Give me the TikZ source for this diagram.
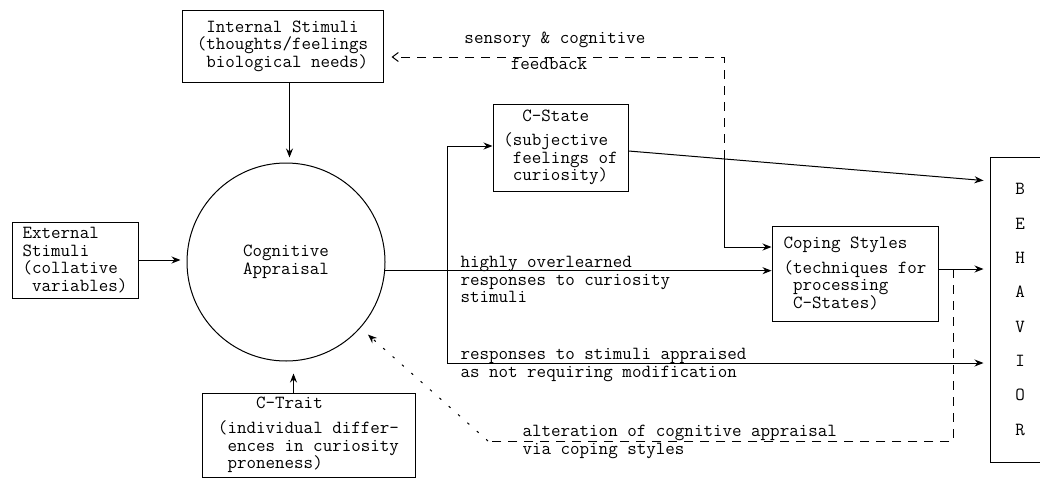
\documentclass[tikz,border=0pt]{standalone}
\usepackage{fontspec}
\usetikzlibrary{arrows.meta}
\tikzset{>={Stealth[width=7pt,length=9pt]}}
\tikzset{
  blk/.style={draw, align=left},
  fb/.style={dash pattern=on 9pt off 7pt},
  fbdot/.style={dash pattern=on 2.5pt off 10pt},
}

\begin{document}
\begin{tikzpicture}[x=1pt, y=-1pt, line width=1pt,
  every node/.style={inner sep=0pt, font=\ttfamily\fontsize{18.5}{17.5}\selectfont}]
  \useasboundingbox (0,0) rectangle (1040,479);

  % boxes
  \node[blk, minimum width=201pt, minimum height=72pt] (ist) at (282.5,46)
    {\ Internal Stimuli\\(thoughts/feelings\\\ biological needs)};
  \node[blk, minimum width=126pt, minimum height=76pt] (est) at (75,260)
    {External\\Stimuli\\(collative\\\ variables)};
  \node[draw, circle, minimum size=198pt, align=center] (ca) at (286,262)
    {Cognitive\\Appraisal};
  \node[blk, minimum width=213pt, minimum height=84pt] (ctr) at (308.5,435)
    {\ \ \ \ C-Trait\\[8pt](individual differ-\\\ ences in curiosity\\\ proneness)};
  \node[blk, minimum width=135pt, minimum height=87pt] (cst) at (560.5,147.5)
    {\ \ C-State\\[7pt](subjective\\\ feelings of\\\ curiosity)};
  \node[blk, minimum width=166pt, minimum height=95pt] (cps) at (855,273.5)
    {Coping Styles\\[7pt](techniques for\\\ processing\\\ C-States)};
  \node[blk, align=center, minimum width=60pt, minimum height=305pt,
    font=\ttfamily\fontsize{18.5}{34.3}\selectfont] (beh) at (1020,309.5)
    {B\\E\\H\\A\\V\\I\\O\\R};

  % labels
  \node (sens) at (555,40) {sensory \& cognitive};
  \node[anchor=north] (fdb) at (549,58) {feedback};
  \node[anchor=north west, align=left] (hol) at (460,256)
    {highly overlearned\\responses to curiosity\\stimuli};
  \node[anchor=north west, align=left] (rsa) at (460,348)
    {responses to stimuli appraised\\as not requiring modification};
  \node[anchor=north west, align=left] (alt) at (522,425)
    {alteration of cognitive appraisal\\via coping styles};

  % inputs to appraisal
  \draw[->, shorten >=5pt] ([xshift=7pt]ist.south) -- ([xshift=7pt]ist.south |- ca.north);
  \draw[->, shorten >=6pt] (est.east) -- (est.east -| ca.west);
  \draw[->, shorten >=12pt] ([xshift=-15pt]ctr.north) -- ([xshift=-15pt]ctr.north |- ca.south);

  % appraisal outputs
  \draw[->] (ca.-5) -- coordinate[pos=0.161] (jn) (ca.-5 -| cps.west);
  \draw[->] (jn) |- ([yshift=1.5pt]cst.west);
  \draw[->, shorten >=6pt] (jn) |- ([yshift=-53.5pt]beh.west);

  \draw[->, shorten >=6pt] ([yshift=-3.5pt]cst.east) -- coordinate[pos=0.265] (br)
    ([yshift=128.5pt]beh.west);
  \draw[->] (br) |- ([yshift=26.5pt]cps.west);
  \draw[fb, -{Straight Barb[length=6pt,width=9pt]}, shorten >=8pt] (br) |- ([yshift=-11pt]ist.east);

  \draw[->, shorten >=6pt] ([yshift=4.5pt]cps.east) -- coordinate[pos=0.29] (br3)
    ([yshift=4.5pt]cps.east -| beh.west);

  % feedback to appraisal
  \coordinate (altc) at (488,441);
  \draw[fb] (br3) |- (altc);
  \draw[fbdot, ->, shorten >=10pt] (altc) -- (ca);

\end{tikzpicture}
\end{document}
